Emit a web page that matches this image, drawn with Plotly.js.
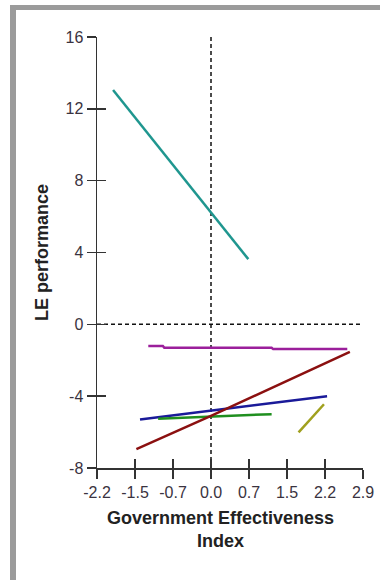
<!DOCTYPE html>
<html>
<head>
<meta charset="utf-8">
<script src="https://cdn.plot.ly/plotly-3.0.1.min.js"></script>
<style>
  html, body { margin: 0; padding: 0; background: #ffffff; }
  #wrap { position: relative; width: 380px; height: 580px; }
  #frame { position: absolute; left: 10px; top: 5px; width: 364px; height: 573px;
           border-left: 6px solid #9b9b9b; border-top: 5px solid #9b9b9b; border-bottom: 1px solid #e0e0e0; }
  #chart { position: absolute; left: 0; top: 0; width: 380px; height: 580px; }
</style>
</head>
<body>
<div id="wrap">
  <div id="frame"></div>
  <div id="chart"></div>
</div>
<script>
// Tick positions / labels (x ticks are equally spaced at 2.2/3 steps)
const xTickVals = [-2.2, -1.4667, -0.7333, 0, 0.7333, 1.4667, 2.2, 2.9333];
const xTickText = ["-2.2", "-1.5", "-0.7", "0.0", "0.7", "1.5", "2.2", "2.9"];
const yTickVals = [-8, -4, 0, 4, 8, 12, 16];
const yTickText = ["-8", "-4", "0", "4", "8", "12", "16"];

// Series (Government Effectiveness Index vs LE performance)
const tealX = [-1.89, 0.00, 0.72];
const tealY = [13.05, 6.20, 3.63];

const magentaX = [-1.21, -0.93, -0.90, 1.17, 1.20, 2.63];
const magentaY = [-1.20, -1.20, -1.31, -1.31, -1.38, -1.38];

const redX = [-1.44, 0.00, 2.68];
const redY = [-6.95, -5.10, -1.53];

const blueX = [-1.37, 0.00, 2.24];
const blueY = [-5.30, -4.80, -4.00];

const greenX = [-1.02, 0.00, 1.17];
const greenY = [-5.26, -5.12, -5.00];

const oliveX = [1.69, 2.18];
const oliveY = [-6.02, -4.45];

const colors = {
  teal: "#1f968f", magenta: "#9b1f9b", red: "#8b1010",
  blue: "#1a1a99", green: "#1f8f1f", olive: "#a0a01e"
};

function line(x, y, c) {
  return { x: x, y: y, type: "scatter", mode: "lines",
           line: { color: c, width: 2.5 }, hoverinfo: "x+y", showlegend: false };
}

const traces = [
  line(tealX, tealY, colors.teal),
  line(magentaX, magentaY, colors.magenta),
  line(blueX, blueY, colors.blue),
  line(greenX, greenY, colors.green),
  line(redX, redY, colors.red),
  line(oliveX, oliveY, colors.olive)
];
// invisible helper trace on the overlay axes so inside ticks are drawn
traces.push({ x: [xTickVals[0]], y: [yTickVals[0]], xaxis: "x2", yaxis: "y2",
              type: "scatter", mode: "markers", marker: { opacity: 0 },
              hoverinfo: "skip", showlegend: false });

const xr = [xTickVals[0], xTickVals[xTickVals.length - 1]];
const yr = [yTickVals[0], yTickVals[yTickVals.length - 1]];
const tickFont = { family: "Liberation Sans, Arial, sans-serif", size: 16, color: "#3a3340" };

const layout = {
  width: 380, height: 580,
  margin: { l: 97, r: 17, t: 37, b: 112, pad: 0 },
  paper_bgcolor: "rgba(0,0,0,0)",
  plot_bgcolor: "rgba(0,0,0,0)",
  showlegend: false,
  xaxis: {
    range: xr, tickmode: "array", tickvals: xTickVals, ticktext: xTickText,
    showgrid: false, zeroline: false, showline: true, linecolor: "#333", linewidth: 1.5,
    ticks: "outside", ticklen: 9, tickwidth: 1.5, tickcolor: "#333",
    tickfont: tickFont, fixedrange: true
  },
  yaxis: {
    range: yr, tickmode: "array", tickvals: yTickVals, ticktext: yTickText,
    showgrid: false, zeroline: false, showline: true, linecolor: "#333", linewidth: 1.5,
    ticks: "outside", ticklen: 9, tickwidth: 1.5, tickcolor: "#333",
    tickfont: tickFont, fixedrange: true,
    title: { text: "LE performance", standoff: 12,
             font: { family: "Liberation Sans, Arial, sans-serif", size: 18, color: "#222", weight: "bold" } }
  },
  xaxis2: {
    overlaying: "x", range: xr, tickmode: "array", tickvals: xTickVals,
    showticklabels: false, showgrid: false, zeroline: false, showline: false,
    ticks: "inside", ticklen: 9, tickwidth: 1.5, tickcolor: "#333", fixedrange: true
  },
  yaxis2: {
    overlaying: "y", range: yr, tickmode: "array", tickvals: yTickVals,
    showticklabels: false, showgrid: false, zeroline: false, showline: false,
    ticks: "inside", ticklen: 9, tickwidth: 1.5, tickcolor: "#333", fixedrange: true
  },
  shapes: [
    { type: "line", xref: "x", yref: "y", x0: 0, x1: 0, y0: yr[0], y1: yr[1],
      line: { color: "#111", width: 1.5, dash: "4px,3px" }, layer: "below" },
    { type: "line", xref: "x", yref: "y", x0: xr[0], x1: xr[1], y0: 0, y1: 0,
      line: { color: "#111", width: 1.5, dash: "4px,3px" }, layer: "below" }
  ],
  annotations: [
    { text: "Government Effectiveness<br>Index", xref: "paper", yref: "paper",
      x: 0.466, y: -0.142, xanchor: "center", yanchor: "middle", showarrow: false,
      font: { family: "Liberation Sans, Arial, sans-serif", size: 18, color: "#222", weight: "bold" } }
  ]
};

Plotly.newPlot("chart", traces, layout, { displayModeBar: false, staticPlot: true });
</script>
</body>
</html>
